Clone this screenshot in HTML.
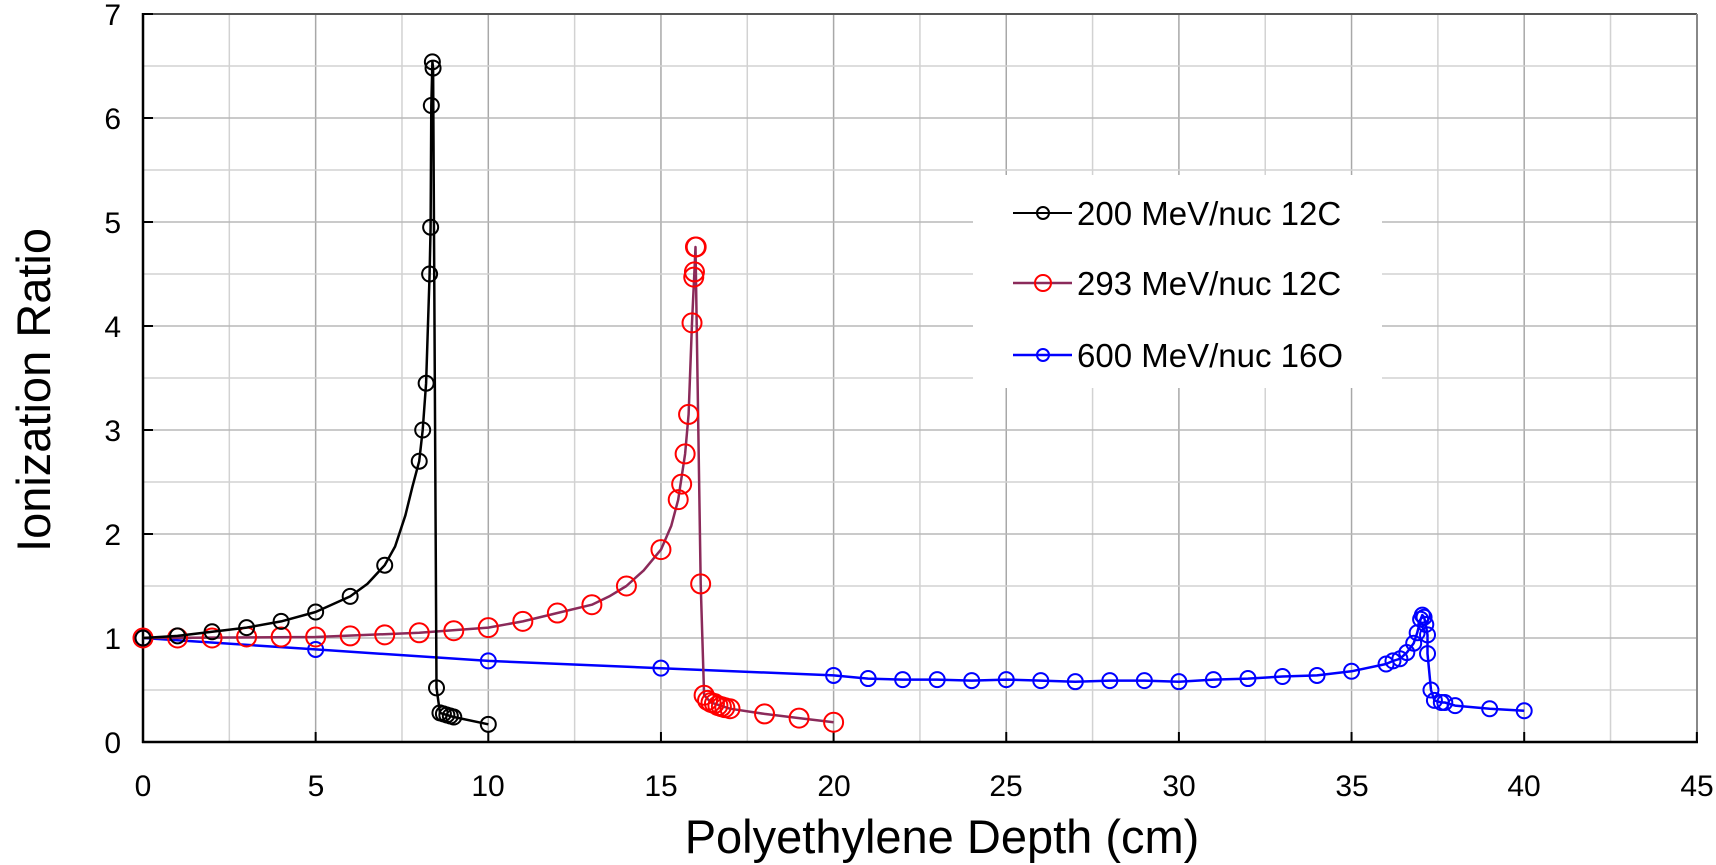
<!DOCTYPE html>
<html><head><meta charset="utf-8"><style>
html,body{margin:0;padding:0;background:#fff;}
svg{display:block;font-family:"Liberation Sans",Arial,sans-serif;}
</style></head><body>
<svg id="c" width="1716" height="865" viewBox="0 0 1716 865" xmlns="http://www.w3.org/2000/svg">
<rect width="1716" height="865" fill="#fff"/>
<g id="grid"></g>
<rect x="973" y="175" width="409" height="213" fill="#fff"/>
<g id="axes"></g>
<g id="series"></g>
<g font-size="30" fill="#000" text-anchor="end">
<text x="121" y="753">0</text><text x="121" y="649">1</text><text x="121" y="545">2</text><text x="121" y="441">3</text><text x="121" y="337">4</text><text x="121" y="233">5</text><text x="121" y="129">6</text><text x="121" y="25">7</text>
</g>
<g font-size="30" fill="#000" text-anchor="middle">
<text x="143" y="796">0</text><text x="316" y="796">5</text><text x="488" y="796">10</text><text x="661" y="796">15</text><text x="834" y="796">20</text><text x="1006" y="796">25</text><text x="1179" y="796">30</text><text x="1352" y="796">35</text><text x="1524" y="796">40</text><text x="1697" y="796">45</text>
</g>
<text x="942" y="853" font-size="47" text-anchor="middle">Polyethylene Depth (cm)</text>
<text transform="translate(50,390) rotate(-90)" font-size="47" text-anchor="middle">Ionization Ratio</text>
<g font-size="33" fill="#000">
<line x1="1013" y1="213" x2="1072" y2="213" stroke="#000" stroke-width="2"/><circle cx="1043" cy="213" r="6" fill="none" stroke="#000" stroke-width="2"/>
<text x="1077" y="225">200 MeV/nuc 12C</text>
<line x1="1013" y1="283" x2="1072" y2="283" stroke="#8b2a5a" stroke-width="2.5"/><circle cx="1043" cy="283" r="8" fill="none" stroke="#f00" stroke-width="2"/>
<text x="1077" y="295">293 MeV/nuc 12C</text>
<line x1="1013" y1="355" x2="1072" y2="355" stroke="#00f" stroke-width="2.5"/><circle cx="1043" cy="355" r="6" fill="none" stroke="#00f" stroke-width="2"/>
<text x="1077" y="367">600 MeV/nuc 16O</text>
</g>
<script>
(function(){
var NS="http://www.w3.org/2000/svg";
function X(v){return 143+34.53*v;}function Y(v){return 742-104*v;}
function el(p,n,a){var e=document.createElementNS(NS,n);for(var k in a)e.setAttribute(k,a[k]);p.appendChild(e);return e;}
var g=document.getElementById('grid');
for(var i=1;i<18;i++){var x=X(i*2.5);el(g,'line',{x1:x,y1:14,x2:x,y2:742,stroke:i%2?'#d2d2d2':'#a8a8a8','stroke-width':1.5});}
for(var j=1;j<14;j++){var y=Y(j*0.5);el(g,'line',{x1:143,y1:y,x2:1697,y2:y,stroke:j%2?'#d2d2d2':'#b8b8b8','stroke-width':1.5});}
var a=document.getElementById('axes');
el(a,'line',{x1:143,y1:14,x2:1697,y2:14,stroke:'#555','stroke-width':2});
el(a,'line',{x1:1697,y1:14,x2:1697,y2:742,stroke:'#888','stroke-width':2});
el(a,'line',{x1:143,y1:13,x2:143,y2:743,stroke:'#000','stroke-width':2.5});
el(a,'line',{x1:142,y1:742,x2:1698,y2:742,stroke:'#000','stroke-width':2.5});
for(var j=1;j<=7;j++)el(a,'line',{x1:143,y1:Y(j),x2:153,y2:Y(j),stroke:'#000','stroke-width':2});
for(var i=1;i<=9;i++)el(a,'line',{x1:X(i*5),y1:742,x2:X(i*5),y2:732,stroke:'#000','stroke-width':2});
var black=[[0,1],[1,1.02],[2,1.06],[3,1.1],[4,1.16],[5,1.25],[6,1.4],[7,1.7],[8.0,2.7],[8.1,3.0],[8.2,3.45],[8.3,4.5],[8.33,4.95],[8.35,6.12],[8.4,6.48],[8.38,6.54],[8.5,0.52],[8.6,0.28],[8.7,0.27],[8.8,0.26],[8.9,0.25],[9.0,0.24],[10,0.17]];
var blackLine=[[0,1],[1,1.02],[2,1.06],[3,1.1],[4,1.16],[5,1.25],[6,1.4],[6.5,1.52],[7,1.7],[7.3,1.88],[7.6,2.18],[7.8,2.45],[8.0,2.7],[8.1,3.0],[8.2,3.45],[8.3,4.5],[8.33,4.95],[8.35,6.12],[8.38,6.54],[8.4,6.48],[8.5,0.52],[8.6,0.28],[8.7,0.27],[8.8,0.26],[8.9,0.25],[9.0,0.24],[10,0.17]];
var red=[[0,1],[1,1],[2,1],[3,1.01],[4,1.01],[5,1.01],[6,1.02],[7,1.03],[8,1.05],[9,1.07],[10,1.1],[11,1.16],[12,1.24],[13,1.32],[14,1.5],[15,1.85],[15.5,2.33],[15.6,2.48],[15.7,2.77],[15.8,3.15],[15.9,4.03],[15.95,4.47],[15.97,4.52],[16.0,4.76],[16.02,4.76],[16.15,1.52],[16.25,0.45],[16.35,0.4],[16.45,0.38],[16.55,0.37],[16.65,0.35],[16.75,0.34],[16.85,0.33],[17,0.32],[18,0.27],[19,0.23],[20,0.19]];
var redLine=[[0,1],[5,1.01],[8,1.05],[10,1.1],[11,1.16],[12,1.24],[13,1.32],[13.5,1.4],[14,1.5],[14.5,1.65],[15,1.85],[15.3,2.08],[15.5,2.33],[15.7,2.77],[15.8,3.15],[15.9,4.03],[15.97,4.52],[16.0,4.76],[16.15,1.52],[16.25,0.45],[16.45,0.38],[17,0.32],[18,0.27],[19,0.23],[20,0.19]];
var blue=[[0,1],[5,0.89],[10,0.78],[15,0.71],[20,0.64],[21,0.61],[22,0.6],[23,0.6],[24,0.59],[25,0.6],[26,0.59],[27,0.58],[28,0.59],[29,0.59],[30,0.58],[31,0.6],[32,0.61],[33,0.63],[34,0.64],[35,0.68],[36,0.75],[36.2,0.78],[36.4,0.8],[36.6,0.86],[36.8,0.95],[36.9,1.05],[37,1.18],[37.05,1.22],[37.1,1.2],[37.15,1.13],[37.2,1.03],[37.2,0.85],[37.3,0.5],[37.4,0.4],[37.6,0.38],[37.7,0.38],[38,0.35],[39,0.32],[40,0.3]];
var s=document.getElementById('series');
function draw(d,ln,lc,mc,r,lw){var p=ln.map(function(q){return X(q[0]).toFixed(1)+','+Y(q[1]).toFixed(1);}).join(' ');
el(s,'polyline',{points:p,fill:'none',stroke:lc,'stroke-width':lw,'stroke-linejoin':'round'});
d.forEach(function(q){el(s,'circle',{cx:X(q[0]),cy:Y(q[1]),r:r,fill:'none',stroke:mc,'stroke-width':2});});}
draw(blue,blue,'#00f','#00f',7.5,2.5);
draw(red,redLine,'#8b2a5a','#f00',9.5,2.5);
draw(black,blackLine,'#000','#000',7.5,2.5);
})();
</script>
</svg>
</body></html>
